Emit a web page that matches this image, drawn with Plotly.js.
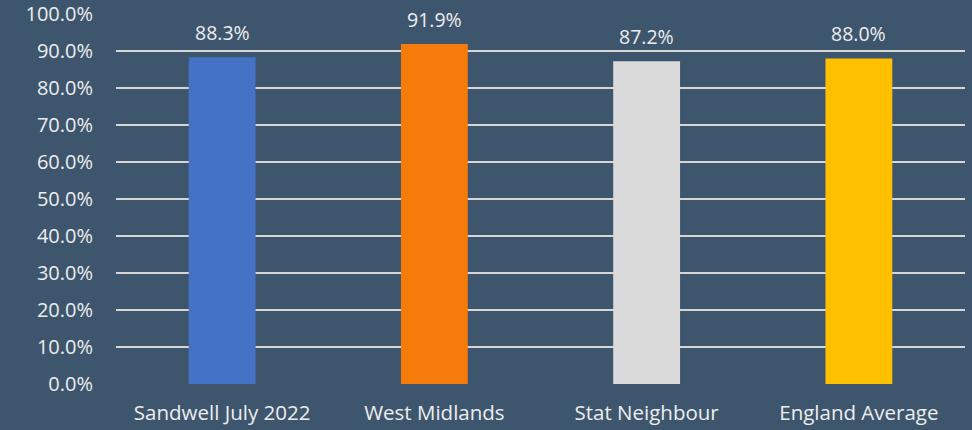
<!DOCTYPE html>
<html>
<head>
<meta charset="utf-8">
<script src="https://cdn.plot.ly/plotly-3.0.1.min.js"></script>
<style>html,body{margin:0;padding:0;background:#3D566E;}#chart{width:972px;height:430px;}</style>
</head>
<body>
<div id="chart"></div>
<script>
const categories = ["Sandwell July 2022", "West Midlands", "Stat Neighbour", "England Average"];
const values = [88.3, 91.9, 87.2, 88.0];
const barColors = ["#4472C4", "#F57C0A", "#DADADA", "#FFC000"];
const yTickVals = [0, 10, 20, 30, 40, 50, 60, 70, 80, 90, 100];
const yTickText = yTickVals.map(v => v.toFixed(1) + "%");

const font = "Open Sans, Noto Sans, sans-serif";
const textColor = "#EDEDED";

const trace = {
  type: "bar",
  x: categories,
  y: values,
  marker: {color: barColors},
  hoverinfo: "none"
};

const annotations = categories.map((c, i) => ({
  x: c, y: values[i], xref: "x", yref: "y",
  text: values[i].toFixed(1) + "%",
  showarrow: false, yanchor: "bottom", yshift: 9,
  font: {family: font, size: 19.5, color: textColor}
}));

const layout = {
  width: 972, height: 430,
  paper_bgcolor: "#3D566E",
  plot_bgcolor: "#3D566E",
  margin: {l: 116, r: 7, t: 14, b: 46},
  bargap: 0.685,
  showlegend: false,
  xaxis: {
    type: "category",
    showgrid: false, zeroline: false, showline: false,
    ticks: "",
    ticklabelstandoff: 14,
    tickfont: {family: font, size: 20.5, color: textColor}
  },
  yaxis: {
    range: [0, 100],
    tickvals: yTickVals, ticktext: yTickText,
    showgrid: true, gridcolor: "#D6D6D6", gridwidth: 2,
    zeroline: false, showline: false, ticks: "",
    ticklabelstandoff: 22,
    tickfont: {family: font, size: 20, color: textColor}
  },
  annotations: annotations
};

Plotly.newPlot("chart", [trace], layout, {displayModeBar: false, staticPlot: true});
</script>
</body>
</html>
